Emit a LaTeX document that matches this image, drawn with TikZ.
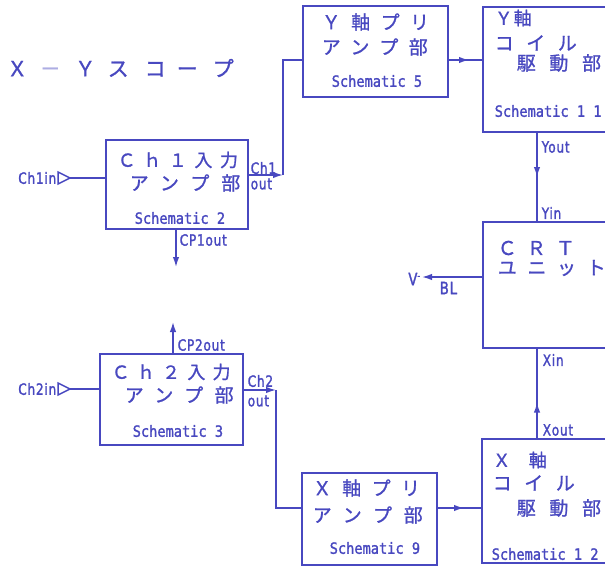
\documentclass[tikz,border=0pt]{standalone}
\usepackage{fontspec}
\newfontfamily\jpf[FakeBold=1]{Noto Sans CJK JP}
\newfontfamily\labf[FakeStretch=0.78,LetterSpace=5,FakeBold=1.5]{DejaVu Sans}
\newfontfamily\schf[FakeStretch=0.88,FakeBold=1.5]{DejaVu Sans Mono}
\usetikzlibrary{arrows.meta,decorations.markings}
\definecolor{ink}{RGB}{72,72,192}
\newcommand\jtxt[3]{{\jpf\fontsize{#1}{#1}\selectfont\addfontfeature{LetterSpace=#2}#3}}
\newcommand\tcell[2][34]{\makebox[#1pt][l]{#2}}
\begin{document}
\begin{tikzpicture}[x=1pt,y=-1pt,line width=1.5pt,draw=ink,text=ink,
  box/.style={draw=ink,inner sep=0pt,outer sep=0pt},
  jt/.style={anchor=west,inner sep=0pt},
  lab/.style={anchor=west,inner sep=0pt,font=\labf\fontsize{15.5}{15.5}\selectfont},
  sch/.style={anchor=west,inner sep=0pt,font=\schf\fontsize{15.5}{15.5}\selectfont},
  arr/.style={-{Latex[length=10pt,width=6.5pt]}},
  midarrow/.style={postaction={decorate},decoration={markings,mark=at position #1 with {\arrow{Latex[length=10pt,width=6.5pt]}}}},
  midarrow/.default=0.5]
\fill[white] (0,0) rectangle (605,567);
\clip (0,0) rectangle (605,567);

% title
\node[jt] (title) at (6,68) {\jpf\fontsize{21}{21}\selectfont\tcell[33]{Ｘ}\tcell[35]{\textcolor{ink!45}{－}}\tcell[33]{Ｙ}\tcell[37]{ス}\tcell[32]{コ}\tcell[36]{ー}\tcell[30]{プ}};

% boxes
\node[box,minimum width=142pt,minimum height=89pt] (ch1) at (177,184.5) {};
\node[box,minimum width=143pt,minimum height=91pt] (ch2) at (171.5,399.5) {};
\node[box,minimum width=145pt,minimum height=91pt] (ypre) at (375.5,51.5) {};
\node[box,minimum width=157pt,minimum height=125pt] (ycoil) at (561.5,69.5) {};
\node[box,minimum width=157pt,minimum height=126pt] (crt) at (561.5,285) {};
\node[box,minimum width=135pt,minimum height=92pt] (xpre) at (369.5,519) {};
\node[box,minimum width=158pt,minimum height=124pt] (xcoil) at (561,501) {};

% box texts
\node[jt] (ypre1) at (321,22) {\jtxt{19}{55}{Ｙ軸プリ}};
\node[jt] (ypre2) at (321,47) {\jtxt{19}{55}{アンプ部}};
\node[sch] (ypre3) at (331,81) {Schematic 5};

\node[jt] (ycoil1) at (494,18) {\jtxt{18}{5}{Ｙ軸}};
\node[jt] (ycoil2) at (494,43) {\jtxt{19}{66}{コイル}};
\node[jt] (ycoil3) at (516,63) {\jtxt{19}{72}{駆動部}};
\node[sch] (ycoil4) at (494,111) {Schematic 1 1};

\node[jt] (crt1) at (497,248) {\jtxt{19}{53}{ＣＲＴ}};
\node[jt] (crt2) at (497,268) {\jtxt{19}{56}{ユニット}};

\node[jt] (ch1a) at (117,160) {\jtxt{18}{42}{Ｃｈ１入力}};
\node[jt] (ch1b) at (129,183) {\jtxt{19}{63}{アンプ部}};
\node[sch] (ch1c) at (134,218) {Schematic 2};

\node[jt] (ch2a) at (111,372) {\jtxt{18}{40}{Ｃｈ２入力}};
\node[jt] (ch2b) at (124,395) {\jtxt{19}{60}{アンプ部}};
\node[sch] (ch2c) at (132,431) {Schematic 3};

\node[jt] (xpre1) at (312,488) {\jtxt{19}{55}{Ｘ軸プリ}};
\node[jt] (xpre2) at (312,515) {\jtxt{19}{62}{アンプ部}};
\node[sch] (xpre3) at (329,548) {Schematic 9};

\node[jt] (xcoil1) at (492,460) {\jtxt{18}{100}{Ｘ軸}};
\node[jt] (xcoil2) at (492,483) {\jtxt{19}{66}{コイル}};
\node[jt] (xcoil3) at (516,508) {\jtxt{19}{72}{駆動部}};
\node[sch] (xcoil4) at (491,554) {Schematic 1 2};

% inputs
\coordinate (ch1tip) at (70,178);
\draw (ch1tip) -- ++(-12,-6) -- ++(0,12) -- cycle;
\draw (ch1tip) -- (ch1.west |- ch1tip);
\node[lab,anchor=east] (ch1in) at (57,178) {Ch1in};

\coordinate (ch2tip) at (70,389);
\draw (ch2tip) -- ++(-12,-6) -- ++(0,12) -- cycle;
\draw (ch2tip) -- (ch2.west |- ch2tip);
\node[lab,anchor=east] (ch2in) at (57,389) {Ch2in};

% Ch1 out -> Y preamp
\coordinate (c1o) at (283,175);
\coordinate (ypin) at (303,60);
\draw[arr] (ch1.east |- c1o) -- (c1o);
\draw (c1o) |- (ypin);
\node[lab] (ch1outa) at (250,168) {Ch1};
\node[lab] (ch1outb) at (250,184) {out};

% Ch2 out -> X preamp
\coordinate (c2o) at (276,390);
\coordinate (xpin) at (302,508);
\draw[arr] (ch2.east |- c2o) -- (c2o);
\draw (c2o) |- (xpin);
\node[lab] (ch2outa) at (247,381) {Ch2};
\node[lab] (ch2outb) at (247,401) {out};

% CP outputs
\coordinate (cp1) at (176,267);
\draw[arr] (ch1.south -| cp1) -- (cp1);
\node[lab] (cp1l) at (179,240) {CP1out};
\coordinate (cp2) at (173,322);
\draw[arr] (ch2.north -| cp2) -- (cp2);
\node[lab] (cp2l) at (177,345) {CP2out};

% preamp -> coil
\draw[midarrow=0.6] (ypre.east |- ypin) -- (ycoil.west |- ypin);
\draw[midarrow=0.6] (xpre.east |- xpin) -- (xcoil.west |- xpin);

% coil -> CRT
\coordinate (yx) at (537,0);
\draw[midarrow=0.5] (ycoil.south -| yx) -- (crt.north -| yx);
\draw[midarrow=0.4] (xcoil.north -| yx) -- (crt.south -| yx);
\node[lab] (yout) at (541,147) {Yout};
\node[lab] (yin) at (541,213) {Yin};
\node[lab] (xin) at (542,360) {Xin};
\node[lab] (xout) at (542,430) {Xout};

% BL
\coordinate (vm) at (422,277);
\draw[arr] (crt.west |- vm) -- (vm);
\node[lab,anchor=east,font=\labf\fontsize{17}{17}\selectfont] (vminus) at (421,279) {V\raisebox{6pt}{\fontsize{10}{10}\selectfont -}};
\node[lab,font=\labf\fontsize{17}{17}\selectfont] (bl) at (439,288) {BL};
\end{tikzpicture}
\end{document}
